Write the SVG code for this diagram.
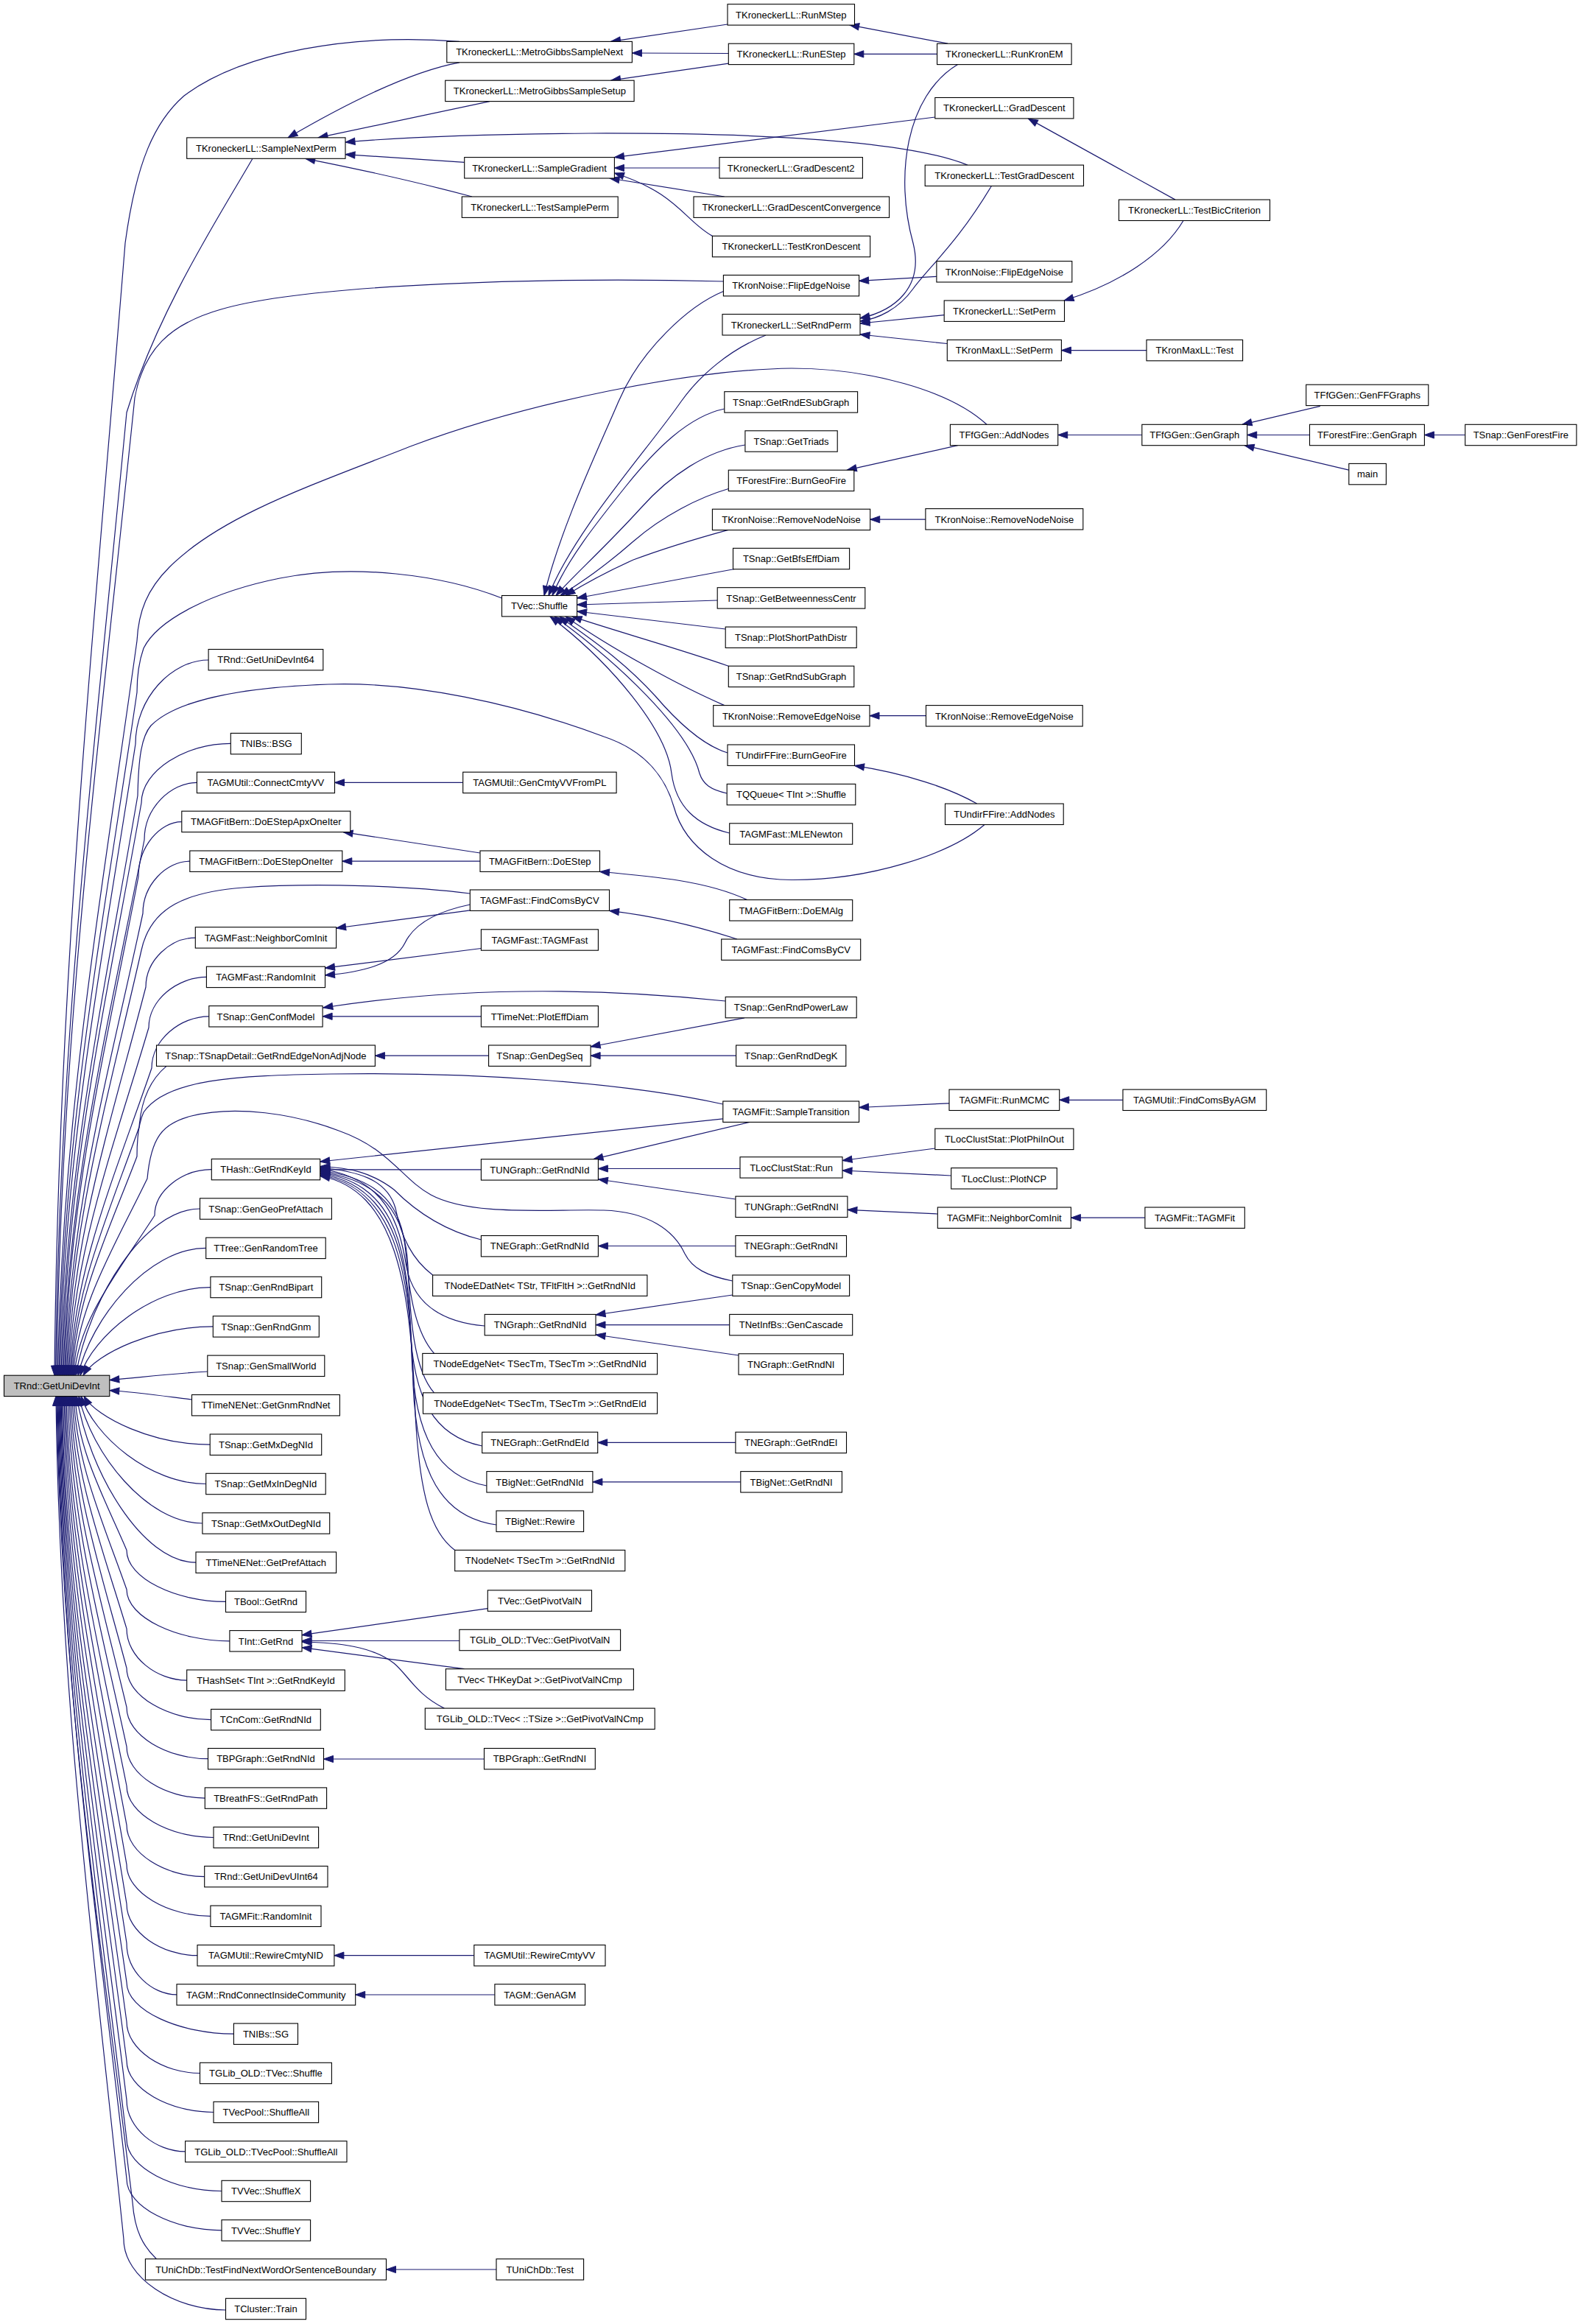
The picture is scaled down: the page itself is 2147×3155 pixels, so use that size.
<svg xmlns="http://www.w3.org/2000/svg" width="2147" height="3155" viewBox="0 0 2147 3155">
<defs>
<marker id="ah" markerUnits="userSpaceOnUse" markerWidth="13" markerHeight="10" refX="13" refY="4.6" orient="auto" overflow="visible"><path d="M0,0L13,4.6L0,9.2z" fill="#191970" stroke="#191970" stroke-width="1"/></marker>
<style>
.n rect{fill:#fff;stroke:#000;stroke-width:1.1}
.n text{font-family:"Liberation Sans",Arial,Helvetica,sans-serif;font-size:13px;text-anchor:middle;fill:#000}
#n0 rect{fill:#bfbfbf}
.e path{fill:none;stroke:#191970;stroke-width:1.2;marker-end:url(#ah)}
</style>
</defs>
<rect x="0" y="0" width="2147" height="3155" fill="#fff"/>
<g class="e" id="edges">
<path d="M1287,59.2 L1153.6,33.8"/>
<path d="M1272.6,73.4 L1159.8,73.4"/>
<path d="M988,33 L829.6,56.4"/>
<path d="M989.3,72.5 L858.4,72"/>
<path d="M989.3,86.2 L829.6,109.2"/>
<path d="M624,84.8 Q540,100 391,186.9"/>
<path d="M665,137.6 L432,186.9"/>
<path d="M1314,224.1 C1250,198 1100,180 800,181 C650,182 550,186 469,193"/>
<path d="M630.7,220.4 L469,209.6"/>
<path d="M641,267 Q540,240 414.8,215.3"/>
<path d="M1269.8,159 L834.4,213.6"/>
<path d="M977,228 L834.4,228"/>
<path d="M983.8,267 L828,242"/>
<path d="M967.4,320.4 C930,300 920,262 834.4,235"/>
<path d="M1596,271.1 L1396.3,160.9"/>
<path d="M1607,299.5 C1580,345 1520,385 1445,408"/>
<path d="M1300.6,87.6 C1230,130 1215,240 1240,330 C1255,390 1215,422 1168,432"/>
<path d="M1346.4,252.5 C1300,330 1262,362 1240,392 C1220,420 1192,433 1168,436"/>
<path d="M1282.2,427.6 L1168,439"/>
<path d="M1286.3,466.5 L1168,454"/>
<path d="M1557,475.6 L1441.4,475.6"/>
<path d="M1271.9,375.4 L1166.6,381.3"/>
<path d="M982.4,395.5 C935,415 870,475 840,545 C810,615 760,720 739,808.5"/>
<path d="M1040,455 C990,475 950,510 925,545 C880,610 780,720 745,808.5"/>
<path d="M983.8,555 C935,565 890,610 850,660 C810,710 770,760 750,808.5"/>
<path d="M1011.9,604 C960,612 910,645 870,690 C820,745 780,780 755,808.5"/>
<path d="M989.3,663.5 C950,675 900,700 860,735 C820,770 790,790 761,808.5"/>
<path d="M989,719.3 C950,730 900,745 860,760 C820,778 790,795 768,808.5"/>
<path d="M997.5,772.5 L783.6,812"/>
<path d="M974.2,815 L783.6,821"/>
<path d="M985.2,854 L783.6,830"/>
<path d="M989.3,904.2 C920,880 830,855 777,836.9"/>
<path d="M983.8,957.6 C920,930 830,880 768,836.9"/>
<path d="M988,1022 C955,1012 920,980 890,945 C840,890 790,860 760,836.9"/>
<path d="M987.2,1077 C965,1072 955,1065 950,1050 C935,990 840,900 753,836.9"/>
<path d="M990.7,1131 C945,1120 918,1095 912,1050 C905,990 830,900 747,836.9"/>
<path d="M1550.8,590.5 L1436.7,590.5"/>
<path d="M1300.6,604.7 L1150.2,638.2"/>
<path d="M1792.8,551.3 L1687,576.3"/>
<path d="M1778.5,590.5 L1693.7,590.5"/>
<path d="M1831.8,638.2 L1690,604.7"/>
<path d="M1989.7,590.5 L1934.4,590.5"/>
<path d="M1256.9,705.2 L1181.7,705.2"/>
<path d="M1257.5,971.7 L1181,971.7"/>
<path d="M1326.6,1091.1 C1290,1070 1230,1050 1160.5,1039.4"/>
<path d="M628.7,1062.4 L454.5,1062.4"/>
<path d="M652,1158 L466,1129.6"/>
<path d="M652,1169.2 L464.8,1169.2"/>
<path d="M1014.7,1221.6 C960,1196 890,1190 814.5,1183.4"/>
<path d="M1001,1275 C955,1260 900,1245 827.5,1236.4"/>
<path d="M638.3,1235.8 L456.6,1260"/>
<path d="M638.3,1228 C590,1238 562,1255 550,1280 C535,1310 490,1320 441.5,1324"/>
<path d="M653.4,1287.5 L441.5,1314.2"/>
<path d="M985.2,1359 C850,1345 650,1335 438.8,1368"/>
<path d="M653.4,1379.8 L438.1,1379.8"/>
<path d="M663.6,1433.2 L509.4,1433.2"/>
<path d="M1011,1381.8 L802.1,1421"/>
<path d="M999.6,1433.2 L802.1,1433.2"/>
<path d="M1289,1497.8 L1166.6,1503.5"/>
<path d="M1524.9,1493.3 L1438.7,1493.3"/>
<path d="M981.8,1518.8 L434.7,1577"/>
<path d="M1018,1523.4 L806,1573.7"/>
<path d="M1005,1586.5 L812.4,1586.5"/>
<path d="M998.9,1628 L812.4,1601"/>
<path d="M1269.8,1559 L1144,1575.5"/>
<path d="M1291.7,1596 L1144,1589"/>
<path d="M1273.3,1648 L1150.9,1642.4"/>
<path d="M1554.9,1653.2 L1454.4,1653.2"/>
<path d="M998.9,1691.5 L812.4,1691.5"/>
<path d="M994.8,1758 L809,1785"/>
<path d="M990.7,1798.6 L809,1798.6"/>
<path d="M1003,1840 L809,1812"/>
<path d="M998.9,1958.4 L811.7,1958.4"/>
<path d="M1005.8,2011.8 L804.9,2011.8"/>
<path d="M653.4,1587.9 L434.7,1587.9"/>
<path d="M653.4,1683 C600,1670 560,1640 535,1615 C505,1592 475,1585 434.7,1583.5"/>
<path d="M587.6,1731 C560,1710 545,1680 537,1640 C525,1600 485,1590 434.7,1585"/>
<path d="M658.2,1800 C600,1795 562,1770 552,1720 C542,1660 525,1600 434.7,1586.5"/>
<path d="M589.6,1837.4 C565,1810 556,1760 551,1700 C546,1640 520,1600 434.7,1589"/>
<path d="M589.6,1890.8 C562,1860 557,1790 554,1720 C551,1650 520,1603 434.7,1590.5"/>
<path d="M654.7,1963 C590,1950 561,1900 557,1800 C552,1680 530,1606 434.7,1592"/>
<path d="M660.9,2017 C595,2005 563,1950 559,1840 C556,1700 532,1609 434.7,1593.5"/>
<path d="M674,2070 C600,2060 566,2000 561,1880 C558,1720 534,1612 434.7,1595"/>
<path d="M617.7,2104.4 C585,2080 570,2030 564,1920 C558,1740 536,1615 434.7,1596.5"/>
<path d="M662.3,2183.6 L410,2219.7"/>
<path d="M623.9,2227.5 L410,2227.5"/>
<path d="M630.7,2265.7 L410,2236.6"/>
<path d="M603.3,2319.1 C565,2300 555,2275 535,2258 C505,2235 460,2230 410,2229"/>
<path d="M657.5,2388 L439.5,2388"/>
<path d="M643.8,2654.7 L453.9,2654.7"/>
<path d="M671.9,2708 L482.7,2708"/>
<path d="M674,3081 L524.5,3081"/>
<path d="M624,56.4 C480,45 330,70 250,130 C210,165 185,220 170,330 C126.8,868 78.8,1329.2 74,1867.2"/>
<path d="M343,215.3 C300,290 215,420 172,560 C128.6,1017.5 80.3,1409.7 75.5,1867.2"/>
<path d="M982.4,382 C750,376 420,385 300,420 C230,440 195,475 183,540 C135.3,1004.5 82.3,1402.7 77,1867.2"/>
<path d="M1340,576.3 C1290,530 1180,500 1075,500 C940,502 720,545 560,605 C420,660 300,700 230,770 C200,800 188,830 186,870 C137.6,1219 83.9,1518.2 78.5,1867.2"/>
<path d="M681.5,812 C600,780 480,765 380,785 C290,803 215,840 195,880 C188,900 186,920 186,940 C138.3,1264.5 85.3,1542.7 80,1867.2"/>
<path d="M283.1,896 C233.55,896 184,947.3 184,1010 C137.9,1310 86.6,1567.2 81.5,1867.2"/>
<path d="M1337,1119.5 C1290,1160 1180,1195 1075,1194.5 C985,1194 930,1150 915,1095 C905,1060 880,1020 820,1000 C700,955 560,925 446,929 C330,933 240,950 205,985 C192,1000 188,1030 187,1080 C140.2,1355.5 88.2,1591.7 83,1867.2"/>
<path d="M313.3,1009.3 C252.65,1009.3 192,1045.6 192,1090 C143.6,1362 89.9,1595.2 84.5,1867.2"/>
<path d="M267.4,1062.4 C231.7,1062.4 196,1097.3 196,1140 C146.5,1394.5 91.5,1612.7 86,1867.2"/>
<path d="M246.8,1115.6 C217.4,1115.6 188,1149.1 188,1190 C142.8,1427 92.5,1630.2 87.5,1867.2"/>
<path d="M257.8,1169.2 C225.9,1169.2 194,1201.1 194,1240 C146.75,1459.5 94.25,1647.7 89,1867.2"/>
<path d="M638.3,1213 C560,1203 430,1198 330,1205 C255,1211 205,1230 192,1290 C146.3,1492 95.6,1665.2 90.5,1867.2"/>
<path d="M265.3,1273.1 C231.65,1273.1 198,1303.2 198,1340 C150.3,1524.5 97.3,1682.7 92,1867.2"/>
<path d="M280.4,1326.4 C241.2,1326.4 202,1357.3 202,1395 C153.2,1560.3 98.9,1701.9 93.5,1867.2"/>
<path d="M283.8,1379.8 C244.9,1379.8 206,1411.4 206,1450 C156,1596 100.55,1721.2 95,1867.2"/>
<path d="M226,1447.4 C205,1465 192,1490 189,1530 C147.4,1648 101.1,1749.2 96.5,1867.2"/>
<path d="M981.8,1499 C850,1470 650,1455 450,1458 C320,1460 225,1465 195,1510 C188,1525 186,1545 186,1570 C146.4,1674 102.4,1763.2 98,1867.2"/>
<path d="M994.8,1739 C960,1732 940,1722 930,1702 C915,1670 880,1645 820,1643 C750,1641 640,1652 585,1622 C545,1600 530,1560 460,1535 C400,1512 320,1500 260,1515 C220,1525 205,1545 200,1600 C154.8,1693.5 104.5,1773.7 99.5,1867.2"/>
<path d="M287.3,1587.7 C248.65,1587.7 210,1615.7 210,1650 C161,1726 106.45,1791.2 101,1867.2"/>
<path d="M271.5,1641 C195.7,1641 119.85,1765.4 103,1867.2"/>
<path d="M279.7,1694.4 C201.5,1694.4 123.4,1789.4 106,1867.2"/>
<path d="M285.9,1747.6 C206.3,1747.6 126.7,1813.4 109,1867.2"/>
<path d="M289.3,1800.9 C210,1800.9 130.6,1837.4 113,1867.2"/>
<path d="M281.8,1862 C230,1865 190,1870 148.8,1873.5"/>
<path d="M260.5,1900 C220,1895 185,1890 148.8,1887.5"/>
<path d="M285.2,1961.2 C208.2,1961.2 131.1,1924.9 114,1895.2"/>
<path d="M279.7,2014.5 C203.3,2014.5 127,1948.9 110,1895.2"/>
<path d="M274.9,2068 C199.3,2068 123.8,1973 107,1895.2"/>
<path d="M266,2121.2 C193.1,2121.2 120.2,1996.9 104,1895.2"/>
<path d="M306.5,2174.4 C239.25,2174.4 172,2142.9 172,2104.4 C140.5,2031.2 105.5,1968.4 102,1895.2"/>
<path d="M311.9,2227.8 C241.95,2227.8 172,2196.3 172,2157.8 C139.6,2065.9 103.6,1987.1 100,1895.2"/>
<path d="M253.7,2281.2 C212.85,2281.2 172,2249.7 172,2211.2 C138.7,2100.6 101.7,2005.8 98,1895.2"/>
<path d="M286.6,2334.6 C229.3,2334.6 172,2303.1 172,2264.6 C137.8,2135.3 99.8,2024.5 96,1895.2"/>
<path d="M282.5,2387.7 C227.25,2387.7 172,2356.2 172,2317.7 C136.9,2169.8 97.9,2043.1 94,1895.2"/>
<path d="M278.3,2441.1 C225.15,2441.1 172,2409.6 172,2371.1 C136,2204.5 96,2061.8 92,1895.2"/>
<path d="M290,2494.5 C231,2494.5 172,2463 172,2424.5 C135.1,2239.2 94.1,2080.5 90,1895.2"/>
<path d="M277.7,2547.6 C224.85,2547.6 172,2516.1 172,2477.6 C134.4,2273.9 92.7,2099.1 88.5,1895.2"/>
<path d="M285.9,2601.3 C228.95,2601.3 172,2569.8 172,2531.3 C133.75,2308.7 91.25,2117.8 87,1895.2"/>
<path d="M268,2654.7 C220,2654.7 172,2623.2 172,2584.7 C133.1,2343.4 89.8,2136.5 85.5,1895.2"/>
<path d="M240,2707.9 C206,2707.9 172,2676.4 172,2637.9 C132.4,2377.9 88.4,2155.1 84,1895.2"/>
<path d="M317.4,2761.2 C244.7,2761.2 172,2729.7 172,2691.2 C132,2412.6 87.45,2173.8 83,1895.2"/>
<path d="M271.5,2814.5 C221.75,2814.5 172,2783 172,2744.5 C131.5,2447.2 86.5,2192.5 82,1895.2"/>
<path d="M290,2867.5 C231,2867.5 172,2836 172,2797.5 C131.05,2481.8 85.55,2211 81,1895.2"/>
<path d="M251.6,2920.9 C211.8,2920.9 172,2889.4 172,2850.9 C130.6,2516.5 84.6,2229.7 80,1895.2"/>
<path d="M301,2974.5 C236.5,2974.5 172,2943 172,2904.5 C130.15,2551.2 83.65,2248.5 79,1895.2"/>
<path d="M301,3027.9 C236.5,3027.9 172,2996.4 172,2957.9 C129.7,2585.9 82.7,2267.1 78,1895.2"/>
<path d="M212.5,3066.7 C195,3050 183,3030 180,2990 C133.65,2606.8 82.15,2278.4 77,1895.2"/>
<path d="M306.5,3136 C237.25,3136 168,3092.8 168,3040 C126.6,2639.3 80.6,2295.9 76,1895.2"/>
</g>
<g id="n0" class="n"><rect x="5.5" y="1867.2" width="143.3" height="28.4"/><text x="77.15" y="1886.1">TRnd::GetUniDevInt</text></g>
<g id="n_snp" class="n"><rect x="253.7" y="186.9" width="215.3" height="28.4"/><text x="361.35" y="205.8">TKroneckerLL::SampleNextPerm</text></g>
<g id="n_gudi64" class="n"><rect x="283.1" y="881.5" width="155.7" height="28.4"/><text x="360.95" y="900.4">TRnd::GetUniDevInt64</text></g>
<g id="n_bsg" class="n"><rect x="313.3" y="995.4" width="96" height="28.4"/><text x="361.3" y="1014.3">TNIBs::BSG</text></g>
<g id="n_ccvv" class="n"><rect x="267.4" y="1048.2" width="187.1" height="28.4"/><text x="360.95" y="1067.1">TAGMUtil::ConnectCmtyVV</text></g>
<g id="n_dsaoi" class="n"><rect x="246.8" y="1101.2" width="229" height="28.4"/><text x="361.3" y="1120.1">TMAGFitBern::DoEStepApxOneIter</text></g>
<g id="n_dsoi" class="n"><rect x="257.8" y="1155" width="207" height="28.4"/><text x="361.3" y="1173.9">TMAGFitBern::DoEStepOneIter</text></g>
<g id="n_afnci" class="n"><rect x="265.3" y="1258.7" width="191.3" height="28.4"/><text x="360.95" y="1277.6">TAGMFast::NeighborComInit</text></g>
<g id="n_afri" class="n"><rect x="280.4" y="1312.2" width="161.1" height="28.4"/><text x="360.95" y="1331.1">TAGMFast::RandomInit</text></g>
<g id="n_gcm" class="n"><rect x="283.8" y="1365.6" width="154.3" height="28.4"/><text x="360.95" y="1384.5">TSnap::GenConfModel</text></g>
<g id="n_grenan" class="n"><rect x="212.5" y="1419" width="296.9" height="28.4"/><text x="360.95" y="1437.9">TSnap::TSnapDetail::GetRndEdgeNonAdjNode</text></g>
<g id="n_hash" class="n"><rect x="287.3" y="1573.4" width="147.4" height="28.4"/><text x="361" y="1592.3">THash::GetRndKeyId</text></g>
<g id="n_ggpa" class="n"><rect x="271.5" y="1626.8" width="178.9" height="28.4"/><text x="360.95" y="1645.7">TSnap::GenGeoPrefAttach</text></g>
<g id="n_grt" class="n"><rect x="279.7" y="1680.2" width="162.5" height="28.4"/><text x="360.95" y="1699.1">TTree::GenRandomTree</text></g>
<g id="n_grb" class="n"><rect x="285.9" y="1733.3" width="150.8" height="28.4"/><text x="361.3" y="1752.2">TSnap::GenRndBipart</text></g>
<g id="n_grg" class="n"><rect x="289.3" y="1786.7" width="144" height="28.4"/><text x="361.3" y="1805.6">TSnap::GenRndGnm</text></g>
<g id="n_gsw" class="n"><rect x="281.8" y="1840.1" width="159" height="28.4"/><text x="361.3" y="1859">TSnap::GenSmallWorld</text></g>
<g id="n_ggrn" class="n"><rect x="260.5" y="1893.5" width="200.9" height="28.4"/><text x="360.95" y="1912.4">TTimeNENet::GetGnmRndNet</text></g>
<g id="n_gmd" class="n"><rect x="285.2" y="1947" width="151.5" height="28.4"/><text x="360.95" y="1965.9">TSnap::GetMxDegNId</text></g>
<g id="n_gmid" class="n"><rect x="279.7" y="2000.3" width="162.5" height="28.4"/><text x="360.95" y="2019.2">TSnap::GetMxInDegNId</text></g>
<g id="n_gmod" class="n"><rect x="274.9" y="2053.8" width="172.8" height="28.4"/><text x="361.3" y="2072.7">TSnap::GetMxOutDegNId</text></g>
<g id="n_gpa" class="n"><rect x="266" y="2107" width="190.6" height="28.4"/><text x="361.3" y="2125.9">TTimeNENet::GetPrefAttach</text></g>
<g id="n_bool" class="n"><rect x="306.5" y="2160.2" width="109" height="28.4"/><text x="361" y="2179.1">TBool::GetRnd</text></g>
<g id="n_int" class="n"><rect x="311.9" y="2213.6" width="98.1" height="28.4"/><text x="360.95" y="2232.5">TInt::GetRnd</text></g>
<g id="n_hset" class="n"><rect x="253.7" y="2267" width="214.6" height="28.4"/><text x="361" y="2285.9">THashSet&lt; TInt &gt;::GetRndKeyId</text></g>
<g id="n_cncom" class="n"><rect x="286.6" y="2320.4" width="148.7" height="28.4"/><text x="360.95" y="2339.3">TCnCom::GetRndNId</text></g>
<g id="n_bpg" class="n"><rect x="282.5" y="2373.5" width="157" height="28.4"/><text x="361" y="2392.4">TBPGraph::GetRndNId</text></g>
<g id="n_bfs" class="n"><rect x="278.3" y="2426.9" width="165.3" height="28.4"/><text x="360.95" y="2445.8">TBreathFS::GetRndPath</text></g>
<g id="n_gudi2" class="n"><rect x="290" y="2480.3" width="142.6" height="28.4"/><text x="361.3" y="2499.2">TRnd::GetUniDevInt</text></g>
<g id="n_gudu64" class="n"><rect x="277.7" y="2533.4" width="167.3" height="28.4"/><text x="361.35" y="2552.3">TRnd::GetUniDevUInt64</text></g>
<g id="n_fri" class="n"><rect x="285.9" y="2587.1" width="150.1" height="28.4"/><text x="360.95" y="2606">TAGMFit::RandomInit</text></g>
<g id="n_rcnid" class="n"><rect x="268" y="2640.5" width="185.9" height="28.4"/><text x="360.95" y="2659.4">TAGMUtil::RewireCmtyNID</text></g>
<g id="n_rcic" class="n"><rect x="240" y="2693.7" width="242.7" height="28.4"/><text x="361.35" y="2712.6">TAGM::RndConnectInsideCommunity</text></g>
<g id="n_sg" class="n"><rect x="317.4" y="2747" width="87.1" height="28.4"/><text x="360.95" y="2765.9">TNIBs::SG</text></g>
<g id="n_gvs" class="n"><rect x="271.5" y="2800.3" width="178.9" height="28.4"/><text x="360.95" y="2819.2">TGLib_OLD::TVec::Shuffle</text></g>
<g id="n_vpsa" class="n"><rect x="290" y="2853.3" width="142.6" height="28.4"/><text x="361.3" y="2872.2">TVecPool::ShuffleAll</text></g>
<g id="n_gvpsa" class="n"><rect x="251.6" y="2906.7" width="219.4" height="28.4"/><text x="361.3" y="2925.6">TGLib_OLD::TVecPool::ShuffleAll</text></g>
<g id="n_sx" class="n"><rect x="301" y="2960.3" width="120.6" height="28.4"/><text x="361.3" y="2979.2">TVVec::ShuffleX</text></g>
<g id="n_sy" class="n"><rect x="301" y="3013.7" width="120.6" height="28.4"/><text x="361.3" y="3032.6">TVVec::ShuffleY</text></g>
<g id="n_tfn" class="n"><rect x="197.4" y="3066.7" width="327.1" height="28.4"/><text x="360.95" y="3085.6">TUniChDb::TestFindNextWordOrSentenceBoundary</text></g>
<g id="n_train" class="n"><rect x="306.5" y="3120.3" width="109" height="28.4"/><text x="361" y="3139.2">TCluster::Train</text></g>
<g id="n_mgsn" class="n"><rect x="606.8" y="56.4" width="251.6" height="28.4"/><text x="732.6" y="75.3">TKroneckerLL::MetroGibbsSampleNext</text></g>
<g id="n_mgss" class="n"><rect x="604.7" y="109.2" width="256.4" height="28.4"/><text x="732.9" y="128.1">TKroneckerLL::MetroGibbsSampleSetup</text></g>
<g id="n_sgrad" class="n"><rect x="630.7" y="213.6" width="203.7" height="28.4"/><text x="732.55" y="232.5">TKroneckerLL::SampleGradient</text></g>
<g id="n_tsp" class="n"><rect x="627.3" y="267" width="211.9" height="28.4"/><text x="733.25" y="285.9">TKroneckerLL::TestSamplePerm</text></g>
<g id="n_vshuf" class="n"><rect x="681.5" y="808.5" width="102.1" height="28.4"/><text x="732.55" y="827.4">TVec::Shuffle</text></g>
<g id="n_gcvfpl" class="n"><rect x="628.7" y="1048.2" width="208.4" height="28.4"/><text x="732.9" y="1067.1">TAGMUtil::GenCmtyVVFromPL</text></g>
<g id="n_dse" class="n"><rect x="652" y="1155" width="162.5" height="28.4"/><text x="733.25" y="1173.9">TMAGFitBern::DoEStep</text></g>
<g id="n_fcbcv1" class="n"><rect x="638.3" y="1208" width="189.2" height="28.4"/><text x="732.9" y="1226.9">TAGMFast::FindComsByCV</text></g>
<g id="n_tagmfast" class="n"><rect x="653.4" y="1261.8" width="159" height="28.4"/><text x="732.9" y="1280.7">TAGMFast::TAGMFast</text></g>
<g id="n_ped" class="n"><rect x="653.4" y="1365.6" width="159" height="28.4"/><text x="732.9" y="1384.5">TTimeNet::PlotEffDiam</text></g>
<g id="n_gds" class="n"><rect x="663.6" y="1419" width="138.5" height="28.4"/><text x="732.85" y="1437.9">TSnap::GenDegSeq</text></g>
<g id="n_ungnid" class="n"><rect x="653.4" y="1573.7" width="159" height="28.4"/><text x="732.9" y="1592.6">TUNGraph::GetRndNId</text></g>
<g id="n_negnid" class="n"><rect x="653.4" y="1677.5" width="159" height="28.4"/><text x="732.9" y="1696.4">TNEGraph::GetRndNId</text></g>
<g id="n_nednid" class="n"><rect x="587.6" y="1731" width="291.3" height="28.4"/><text x="733.25" y="1749.9">TNodeEDatNet&lt; TStr, TFltFltH &gt;::GetRndNId</text></g>
<g id="n_ngnid" class="n"><rect x="658.2" y="1784.4" width="150.8" height="28.4"/><text x="733.6" y="1803.3">TNGraph::GetRndNId</text></g>
<g id="n_nenid" class="n"><rect x="573.8" y="1837.4" width="318.8" height="28.4"/><text x="733.2" y="1856.3">TNodeEdgeNet&lt; TSecTm, TSecTm &gt;::GetRndNId</text></g>
<g id="n_neeid" class="n"><rect x="574.5" y="1890.8" width="318.1" height="28.4"/><text x="733.55" y="1909.7">TNodeEdgeNet&lt; TSecTm, TSecTm &gt;::GetRndEId</text></g>
<g id="n_negeid" class="n"><rect x="654.7" y="1944.2" width="157" height="28.4"/><text x="733.2" y="1963.1">TNEGraph::GetRndEId</text></g>
<g id="n_bnnid" class="n"><rect x="660.9" y="1997.6" width="144" height="28.4"/><text x="732.9" y="2016.5">TBigNet::GetRndNId</text></g>
<g id="n_bnrw" class="n"><rect x="674" y="2051" width="118.6" height="28.4"/><text x="733.3" y="2069.9">TBigNet::Rewire</text></g>
<g id="n_nnnid" class="n"><rect x="617.7" y="2104.4" width="231.1" height="28.4"/><text x="733.25" y="2123.3">TNodeNet&lt; TSecTm &gt;::GetRndNId</text></g>
<g id="n_vgpv" class="n"><rect x="662.3" y="2158.9" width="141.2" height="28.4"/><text x="732.9" y="2177.8">TVec::GetPivotValN</text></g>
<g id="n_ovgpv" class="n"><rect x="623.9" y="2212.3" width="218.7" height="28.4"/><text x="733.25" y="2231.2">TGLib_OLD::TVec::GetPivotValN</text></g>
<g id="n_vgpvc" class="n"><rect x="605.4" y="2265.7" width="255" height="28.4"/><text x="732.9" y="2284.6">TVec&lt; THKeyDat &gt;::GetPivotValNCmp</text></g>
<g id="n_ovgpvc" class="n"><rect x="577.3" y="2319.1" width="311.9" height="28.4"/><text x="733.25" y="2338">TGLib_OLD::TVec&lt; ::TSize &gt;::GetPivotValNCmp</text></g>
<g id="n_bpgni" class="n"><rect x="657.5" y="2373.5" width="150.8" height="28.4"/><text x="732.9" y="2392.4">TBPGraph::GetRndNI</text></g>
<g id="n_rcvv" class="n"><rect x="643.8" y="2640.5" width="178.2" height="28.4"/><text x="732.9" y="2659.4">TAGMUtil::RewireCmtyVV</text></g>
<g id="n_genagm" class="n"><rect x="671.9" y="2693.7" width="122.7" height="28.4"/><text x="733.25" y="2712.6">TAGM::GenAGM</text></g>
<g id="n_ucdbt" class="n"><rect x="674" y="3066.7" width="118.6" height="28.4"/><text x="733.3" y="3085.6">TUniChDb::Test</text></g>
<g id="n_rms" class="n"><rect x="988" y="5.7" width="172.5" height="28.4"/><text x="1074.25" y="24.6">TKroneckerLL::RunMStep</text></g>
<g id="n_res" class="n"><rect x="989.3" y="59.2" width="170.5" height="28.4"/><text x="1074.55" y="78.1">TKroneckerLL::RunEStep</text></g>
<g id="n_gd2" class="n"><rect x="977" y="213.6" width="194.4" height="28.4"/><text x="1074.2" y="232.5">TKroneckerLL::GradDescent2</text></g>
<g id="n_gdc" class="n"><rect x="942" y="267" width="265.6" height="28.4"/><text x="1074.8" y="285.9">TKroneckerLL::GradDescentConvergence</text></g>
<g id="n_tkd" class="n"><rect x="967.4" y="320.4" width="214.3" height="28.4"/><text x="1074.55" y="339.3">TKroneckerLL::TestKronDescent</text></g>
<g id="n_fen1" class="n"><rect x="982.4" y="373.5" width="184.2" height="28.4"/><text x="1074.5" y="392.4">TKronNoise::FlipEdgeNoise</text></g>
<g id="n_srp" class="n"><rect x="981" y="426.6" width="187" height="28.4"/><text x="1074.5" y="445.5">TKroneckerLL::SetRndPerm</text></g>
<g id="n_gresg" class="n"><rect x="983.8" y="531.7" width="180.8" height="28.4"/><text x="1074.2" y="550.6">TSnap::GetRndESubGraph</text></g>
<g id="n_gtri" class="n"><rect x="1011.9" y="584.8" width="125.3" height="28.4"/><text x="1074.55" y="603.7">TSnap::GetTriads</text></g>
<g id="n_ffbgf" class="n"><rect x="989.3" y="638.2" width="170.5" height="28.4"/><text x="1074.55" y="657.1">TForestFire::BurnGeoFire</text></g>
<g id="n_rnn1" class="n"><rect x="967.4" y="691.2" width="214.3" height="28.4"/><text x="1074.55" y="710.1">TKronNoise::RemoveNodeNoise</text></g>
<g id="n_gbed" class="n"><rect x="995.5" y="744.3" width="158.1" height="28.4"/><text x="1074.55" y="763.2">TSnap::GetBfsEffDiam</text></g>
<g id="n_gbc" class="n"><rect x="974.2" y="797.7" width="200.6" height="28.4"/><text x="1074.5" y="816.6">TSnap::GetBetweennessCentr</text></g>
<g id="n_pspd" class="n"><rect x="985.2" y="851.1" width="178" height="28.4"/><text x="1074.2" y="870">TSnap::PlotShortPathDistr</text></g>
<g id="n_grsg" class="n"><rect x="989.3" y="904.2" width="170.5" height="28.4"/><text x="1074.55" y="923.1">TSnap::GetRndSubGraph</text></g>
<g id="n_ren1" class="n"><rect x="968.7" y="957.6" width="212.3" height="28.4"/><text x="1074.85" y="976.5">TKronNoise::RemoveEdgeNoise</text></g>
<g id="n_ufbgf" class="n"><rect x="988" y="1011" width="172.5" height="28.4"/><text x="1074.25" y="1029.9">TUndirFFire::BurnGeoFire</text></g>
<g id="n_qqs" class="n"><rect x="987.2" y="1064.4" width="174.6" height="28.4"/><text x="1074.5" y="1083.3">TQQueue&lt; TInt &gt;::Shuffle</text></g>
<g id="n_mlen" class="n"><rect x="990.7" y="1117.8" width="167" height="28.4"/><text x="1074.2" y="1136.7">TAGMFast::MLENewton</text></g>
<g id="n_doem" class="n"><rect x="990.7" y="1221.6" width="167" height="28.4"/><text x="1074.2" y="1240.5">TMAGFitBern::DoEMAlg</text></g>
<g id="n_fcbcv2" class="n"><rect x="979.7" y="1275" width="189" height="28.4"/><text x="1074.2" y="1293.9">TAGMFast::FindComsByCV</text></g>
<g id="n_grpl" class="n"><rect x="985.2" y="1353.4" width="178" height="28.4"/><text x="1074.2" y="1372.3">TSnap::GenRndPowerLaw</text></g>
<g id="n_grdk" class="n"><rect x="999.6" y="1419" width="149.2" height="28.4"/><text x="1074.2" y="1437.9">TSnap::GenRndDegK</text></g>
<g id="n_st" class="n"><rect x="981.8" y="1495" width="184.8" height="28.4"/><text x="1074.2" y="1513.9">TAGMFit::SampleTransition</text></g>
<g id="n_lcsr" class="n"><rect x="1005" y="1570.7" width="139" height="28.4"/><text x="1074.5" y="1589.6">TLocClustStat::Run</text></g>
<g id="n_ungni" class="n"><rect x="998.9" y="1624.1" width="152" height="28.4"/><text x="1074.9" y="1643">TUNGraph::GetRndNI</text></g>
<g id="n_negni" class="n"><rect x="998.9" y="1677.5" width="150.6" height="28.4"/><text x="1074.2" y="1696.4">TNEGraph::GetRndNI</text></g>
<g id="n_gcpm" class="n"><rect x="994.8" y="1731" width="158.8" height="28.4"/><text x="1074.2" y="1749.9">TSnap::GenCopyModel</text></g>
<g id="n_gcas" class="n"><rect x="990.7" y="1784.4" width="167" height="28.4"/><text x="1074.2" y="1803.3">TNetInfBs::GenCascade</text></g>
<g id="n_ngni" class="n"><rect x="1003" y="1837.8" width="142.4" height="28.4"/><text x="1074.2" y="1856.7">TNGraph::GetRndNI</text></g>
<g id="n_negei" class="n"><rect x="998.9" y="1944.2" width="150.6" height="28.4"/><text x="1074.2" y="1963.1">TNEGraph::GetRndEI</text></g>
<g id="n_bnni" class="n"><rect x="1005.8" y="1997.6" width="137.6" height="28.4"/><text x="1074.6" y="2016.5">TBigNet::GetRndNI</text></g>
<g id="n_rkem" class="n"><rect x="1272.6" y="59.2" width="182.5" height="28.4"/><text x="1363.85" y="78.1">TKroneckerLL::RunKronEM</text></g>
<g id="n_gd" class="n"><rect x="1269.8" y="132.5" width="188.1" height="28.4"/><text x="1363.85" y="151.4">TKroneckerLL::GradDescent</text></g>
<g id="n_tgd" class="n"><rect x="1256.2" y="224.1" width="215.3" height="28.4"/><text x="1363.85" y="243">TKroneckerLL::TestGradDescent</text></g>
<g id="n_fen2" class="n"><rect x="1271.9" y="354.6" width="183.9" height="28.4"/><text x="1363.85" y="373.5">TKronNoise::FlipEdgeNoise</text></g>
<g id="n_sp" class="n"><rect x="1282.2" y="408" width="163.3" height="28.4"/><text x="1363.85" y="426.9">TKroneckerLL::SetPerm</text></g>
<g id="n_kmsp" class="n"><rect x="1286.3" y="461.4" width="155.1" height="28.4"/><text x="1363.85" y="480.3">TKronMaxLL::SetPerm</text></g>
<g id="n_ffan" class="n"><rect x="1290.4" y="576.3" width="146.3" height="28.4"/><text x="1363.55" y="595.2">TFfGGen::AddNodes</text></g>
<g id="n_rnn2" class="n"><rect x="1256.9" y="690.6" width="213.9" height="28.4"/><text x="1363.85" y="709.5">TKronNoise::RemoveNodeNoise</text></g>
<g id="n_ren2" class="n"><rect x="1257.5" y="957.6" width="212.7" height="28.4"/><text x="1363.85" y="976.5">TKronNoise::RemoveEdgeNoise</text></g>
<g id="n_ufan" class="n"><rect x="1283.5" y="1091.1" width="160.7" height="28.4"/><text x="1363.85" y="1110">TUndirFFire::AddNodes</text></g>
<g id="n_rmcmc" class="n"><rect x="1289" y="1479.1" width="149.7" height="28.4"/><text x="1363.85" y="1498">TAGMFit::RunMCMC</text></g>
<g id="n_ppio" class="n"><rect x="1269.8" y="1532.2" width="188.1" height="28.4"/><text x="1363.85" y="1551.1">TLocClustStat::PlotPhiInOut</text></g>
<g id="n_pncp" class="n"><rect x="1291.7" y="1585.6" width="143.6" height="28.4"/><text x="1363.5" y="1604.5">TLocClust::PlotNCP</text></g>
<g id="n_fnci" class="n"><rect x="1273.3" y="1639" width="181.1" height="28.4"/><text x="1363.85" y="1657.9">TAGMFit::NeighborComInit</text></g>
<g id="n_tbc" class="n"><rect x="1519.4" y="271.1" width="205.1" height="28.4"/><text x="1621.95" y="290">TKroneckerLL::TestBicCriterion</text></g>
<g id="n_kmt" class="n"><rect x="1557" y="461.4" width="130.6" height="28.4"/><text x="1622.3" y="480.3">TKronMaxLL::Test</text></g>
<g id="n_ffgg" class="n"><rect x="1550.8" y="576.3" width="142.9" height="28.4"/><text x="1622.25" y="595.2">TFfGGen::GenGraph</text></g>
<g id="n_fcagm" class="n"><rect x="1524.9" y="1479.1" width="194.8" height="28.4"/><text x="1622.3" y="1498">TAGMUtil::FindComsByAGM</text></g>
<g id="n_tagmfit" class="n"><rect x="1554.9" y="1639" width="135.4" height="28.4"/><text x="1622.6" y="1657.9">TAGMFit::TAGMFit</text></g>
<g id="n_gffg" class="n"><rect x="1773.7" y="522.2" width="166.1" height="28.4"/><text x="1856.75" y="541.1">TFfGGen::GenFFGraphs</text></g>
<g id="n_ffgen" class="n"><rect x="1778.5" y="576.3" width="155.9" height="28.4"/><text x="1856.45" y="595.2">TForestFire::GenGraph</text></g>
<g id="n_main" class="n"><rect x="1831.8" y="629.4" width="50.6" height="28.4"/><text x="1857.1" y="648.3">main</text></g>
<g id="n_gff" class="n"><rect x="1989.7" y="576.3" width="151.2" height="28.4"/><text x="2065.3" y="595.2">TSnap::GenForestFire</text></g>
</svg>
